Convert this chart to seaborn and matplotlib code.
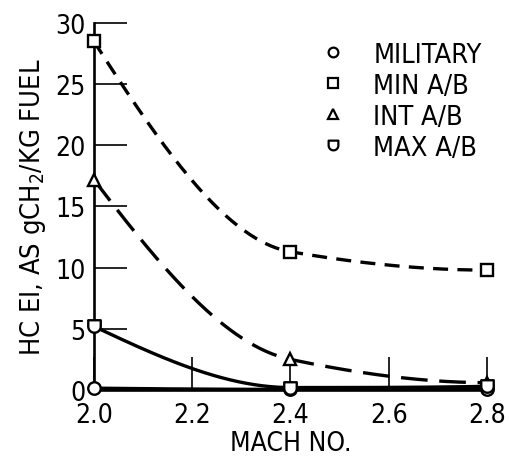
import numpy as np
import pandas as pd
import seaborn as sns
import matplotlib
matplotlib.use("Agg")
import matplotlib.pyplot as plt
from matplotlib.path import Path
from matplotlib.lines import Line2D

# ---- data ----
mach = [2.0, 2.4, 2.8]
military = [0.15, 0.05, 0.1]
min_ab = [28.5, 11.3, 9.8]
int_ab = [17.2, 2.5, 0.6]
max_ab = [5.2, 0.2, 0.3]
series_names = ["MILITARY", "MIN A/B", "INT A/B", "MAX A/B"]
x_ticks = [2.0, 2.2, 2.4, 2.6, 2.8]
x_ticklabels = ["2.0", "2.2", "2.4", "2.6", "2.8"]
y_ticks = [0, 5, 10, 15, 20, 25, 30]

sns.set_theme(style="ticks")
plt.rcParams["font.family"] = ["Liberation Sans Narrow", "DejaVu Sans"]
plt.rcParams["font.stretch"] = "condensed"
plt.rcParams["mathtext.default"] = "regular"
plt.rcParams["text.color"] = "black"
plt.rcParams["axes.labelcolor"] = "black"


def pchip(x, y, xs):
    x = np.asarray(x, float); y = np.asarray(y, float)
    h = np.diff(x); d = np.diff(y) / h
    n = len(x); m = np.zeros(n)
    for k in range(1, n - 1):
        if d[k - 1] * d[k] > 0:
            w1 = 2 * h[k] + h[k - 1]; w2 = h[k] + 2 * h[k - 1]
            m[k] = (w1 + w2) / (w1 / d[k - 1] + w2 / d[k])
    def end(h0, h1, d0, d1):
        s = ((2 * h0 + h1) * d0 - h0 * d1) / (h0 + h1)
        if np.sign(s) != np.sign(d0):
            s = 0
        elif np.sign(d0) != np.sign(d1) and abs(s) > abs(3 * d0):
            s = 3 * d0
        return s
    m[0] = end(h[0], h[1], d[0], d[1])
    m[-1] = end(h[-1], h[-2], d[-1], d[-2])
    out = np.empty_like(xs)
    for i, xv in enumerate(xs):
        k = min(np.searchsorted(x, xv, side="right") - 1, n - 2)
        t = (xv - x[k]) / h[k]
        h00 = 2 * t**3 - 3 * t**2 + 1; h10 = t**3 - 2 * t**2 + t
        h01 = -2 * t**3 + 3 * t**2; h11 = t**3 - t**2
        out[i] = h00 * y[k] + h10 * h[k] * m[k] + h01 * y[k + 1] + h11 * h[k] * m[k + 1]
    return out

# custom marker: square with rounded bottom
th = np.linspace(0, -np.pi, 25)
verts = [(-1, 1), (1, 1)] + list(zip(np.cos(th), np.sin(th))) + [(-1, 1)]
codes = [Path.MOVETO] + [Path.LINETO] * (len(verts) - 2) + [Path.CLOSEPOLY]
dmark = Path(verts, codes)

fig = plt.figure(figsize=(5.1, 4.6), dpi=100)
ax = fig.add_axes([0.184, 0.15, 0.771, 0.798])

xs = np.linspace(2.0, 2.8, 200)
styles = [
    (military, "o", "-"),
    (min_ab, "s", (0, (4.5, 2.8))),
    (int_ab, "^", (0, (8, 3.5))),
    (max_ab, dmark, "-"),
]
handles = []
for name, (vals, mk, ls) in zip(series_names, styles):
    df = pd.DataFrame({"x": xs, "y": pchip(mach, vals, xs)})
    sns.lineplot(data=df, x="x", y="y", ax=ax, color="black", lw=2.4,
                 linestyle=ls, clip_on=False, zorder=3)
    ax.plot(mach, vals, linestyle="none", marker=mk, ms=9, mfc="white",
            mec="black", mew=1.7, clip_on=False, zorder=4)
    handles.append(Line2D([], [], linestyle="none", marker=mk, ms=7,
                          mfc="white", mec="black", mew=1.6, label=name))

ax.set_xlim(2.0, 2.8)
ax.set_ylim(0, 30)
ax.set_xticks(x_ticks)
ax.set_xticklabels(x_ticklabels)
ax.set_yticks(y_ticks)
ax.tick_params(axis="both", direction="in", length=24, width=1.2,
               labelsize=19, colors="black")
ax.tick_params(axis="x", pad=9)
ax.tick_params(axis="y", pad=6)
for s in ["top", "right"]:
    ax.spines[s].set_visible(False)
for s in ["left", "bottom"]:
    ax.spines[s].set_linewidth(1.9)
    ax.spines[s].set_color("black")

ax.set_xlabel("MACH NO.", fontsize=19, labelpad=1)
ax.set_ylabel("HC EI, AS gCH$_2$/KG FUEL", fontsize=19.5, labelpad=5)

leg = ax.legend(handles=handles, loc="upper left", bbox_to_anchor=(0.525, 1.0),
                frameon=False, fontsize=19.5, handlelength=1.0,
                handletextpad=1.0, labelspacing=0.18, borderaxespad=0.3)
for t in leg.get_texts():
    t.set_color("black")

fig.savefig("out.png", dpi=100, facecolor="white")
